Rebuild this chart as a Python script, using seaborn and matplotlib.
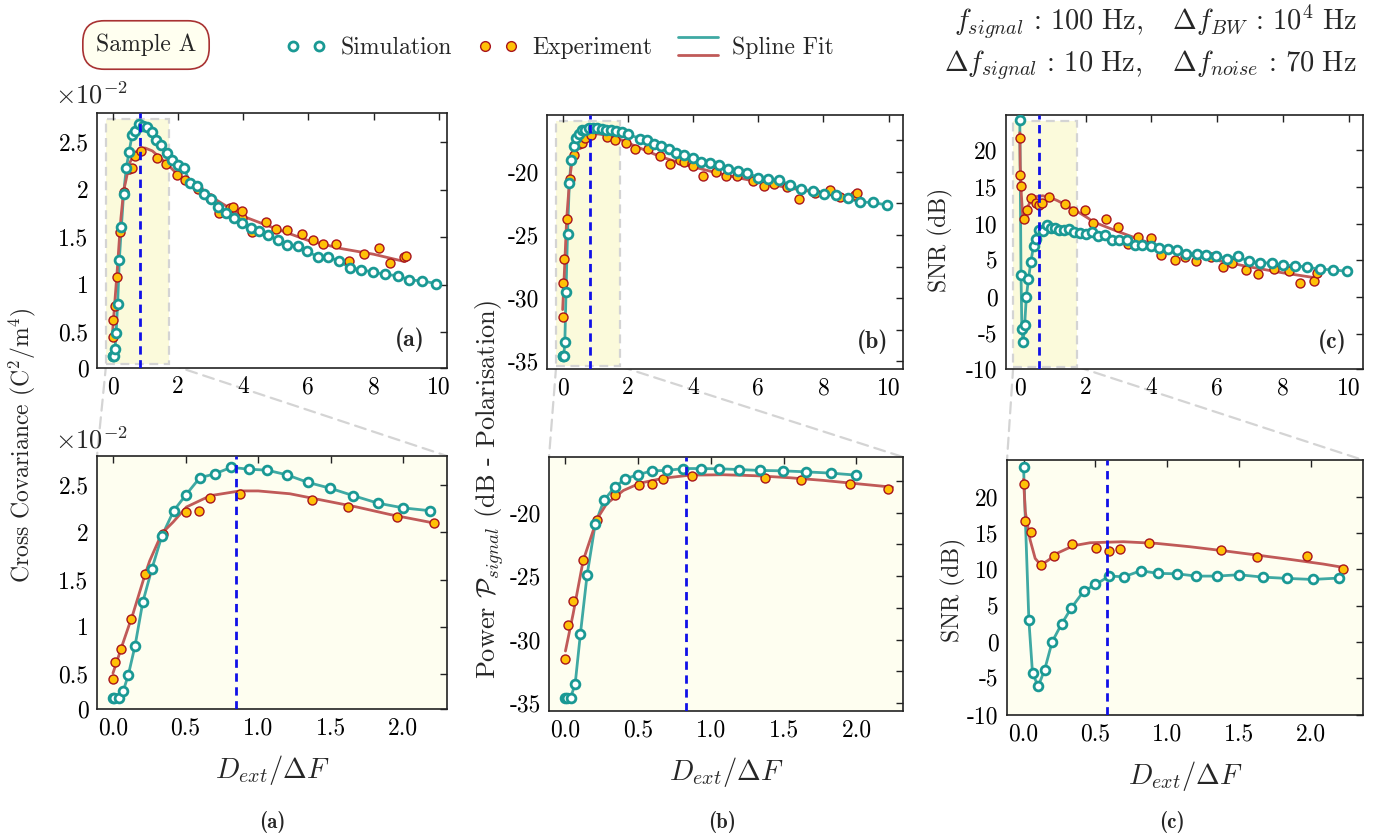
import numpy as np
import pandas as pd
import seaborn as sns
import matplotlib
matplotlib.use("Agg")
import matplotlib.pyplot as plt
from matplotlib.patches import Rectangle, ConnectionPatch
from matplotlib.lines import Line2D
from matplotlib.legend_handler import HandlerBase

# ---------------- data ----------------
# (a) Cross covariance (x1e-2)
a_sim_x = [0.0, 0.01, 0.04, 0.07, 0.106, 0.152, 0.205, 0.267, 0.336, 0.418, 0.503, 0.598, 0.70, 0.814,
           0.936, 1.062, 1.198, 1.343, 1.492, 1.655, 1.825, 2.0, 2.186, 2.375, 2.58, 2.81, 3.01, 3.24,
           3.48, 3.72, 3.98, 4.23, 4.50, 4.77, 5.06, 5.36, 5.67, 5.96, 6.28, 6.61, 6.94, 7.27, 7.62,
           7.98, 8.34, 8.75, 9.10, 9.49, 9.92]
a_sim_y = [0.246, 0.246, 0.246, 0.317, 0.493, 0.80, 1.26, 1.61, 1.96, 2.23, 2.40, 2.58, 2.62, 2.69,
           2.67, 2.66, 2.61, 2.53, 2.47, 2.39, 2.31, 2.26, 2.23, 2.07, 2.036, 1.958, 1.899, 1.817,
           1.758, 1.701, 1.652, 1.599, 1.564, 1.521, 1.465, 1.419, 1.402, 1.349, 1.296, 1.289, 1.25,
           1.176, 1.159, 1.130, 1.109, 1.092, 1.049, 1.039, 1.010]
a_exp_x = [0.0, 0.016, 0.057, 0.122, 0.221, 0.345, 0.506, 0.595, 0.671, 0.874, 1.372, 1.621, 1.959,
           2.211, 2.61, 2.99, 3.27, 3.60, 3.70, 3.96, 3.98, 4.28, 4.70, 5.01, 5.33, 5.81, 6.15, 6.45,
           6.86, 7.24, 7.71, 8.17, 8.49, 8.93, 9.0]
a_exp_y = [0.447, 0.623, 0.77, 1.085, 1.556, 1.98, 2.22, 2.23, 2.36, 2.41, 2.34, 2.27, 2.16, 2.10,
           2.01, 1.91, 1.758, 1.81, 1.818, 1.70, 1.78, 1.553, 1.659, 1.588, 1.571, 1.529, 1.465,
           1.423, 1.43, 1.254, 1.324, 1.387, 1.225, 1.288, 1.306]
a_fit_x = [0.0, 0.069, 0.138, 0.221, 0.253, 0.336, 0.414, 0.506, 0.671, 0.874, 1.0, 1.218, 1.448,
           1.678, 1.908, 2.21, 3.0, 4.0, 5.0, 6.0, 7.0, 8.0, 8.95]
a_fit_y = [0.51, 0.83, 1.14, 1.556, 1.70, 1.99, 2.11, 2.27, 2.39, 2.44, 2.44, 2.41, 2.34, 2.27, 2.19,
           2.10, 1.93, 1.72, 1.59, 1.465, 1.38, 1.32, 1.243]
a_opt = 0.85

# (b) Power P_signal (dB)
b_sim_x = [0.0, 0.01, 0.035, 0.067, 0.103, 0.149, 0.205, 0.264, 0.338, 0.411, 0.497, 0.595, 0.697,
           0.811, 0.929, 1.057, 1.195, 1.338, 1.494, 1.65, 1.823, 2.0, 2.38, 2.59, 2.81, 3.02, 3.25,
           3.49, 3.73, 3.99, 4.24, 4.51, 4.79, 5.07, 5.38, 5.67, 5.98, 6.30, 6.63, 6.96, 7.31, 7.67,
           8.01, 8.37, 8.74, 9.13, 9.52, 9.95]
b_sim_y = [-34.58, -34.58, -34.6, -33.48, -29.53, -24.89, -20.87, -19.03, -17.98, -17.32, -17.0,
           -16.69, -16.66, -16.51, -16.51, -16.53, -16.59, -16.66, -16.69, -16.77, -16.87, -17.03,
           -17.37, -17.45, -17.76, -17.94, -18.21, -18.47, -18.69, -18.87, -19.18, -19.26, -19.45,
           -19.74, -19.95, -20.08, -20.45, -20.60, -20.66, -21.0, -21.37, -21.52, -21.76, -21.87,
           -22.1, -22.39, -22.42, -22.63]
b_exp_x = [0.0, 0.016, 0.055, 0.122, 0.218, 0.343, 0.506, 0.595, 0.671, 0.871, 1.37, 1.62, 1.956,
           2.214, 2.62, 3.0, 3.28, 3.61, 3.71, 3.98, 3.99, 4.29, 4.71, 5.02, 5.35, 5.83, 6.17, 6.47,
           6.88, 7.26, 7.73, 8.19, 8.52, 8.96, 9.03]
b_exp_y = [-31.5, -28.83, -26.93, -23.76, -20.55, -18.63, -17.79, -17.71, -17.35, -17.08, -17.22,
           -17.45, -17.74, -18.16, -18.21, -18.73, -19.4, -19.08, -19.21, -19.26, -19.53, -20.34,
           -20.0, -20.34, -20.34, -20.74, -21.13, -20.97, -21.23, -22.18, -21.71, -21.4, -21.97,
           -21.84, -21.71]
b_fit_x = [0.0, 0.053, 0.122, 0.218, 0.283, 0.398, 0.513, 0.674, 0.857, 1.087, 1.317, 1.547, 1.777,
           2.007, 2.248, 3.0, 4.0, 5.0, 6.0, 7.0, 8.0, 8.98]
b_fit_y = [-30.9, -27.96, -23.76, -20.47, -19.29, -18.24, -17.66, -17.27, -17.03, -17.0, -17.08,
           -17.24, -17.45, -17.71, -17.98, -18.8, -19.6, -20.26, -20.8, -21.3, -21.7, -21.97]
b_opt = 0.83

# (c) SNR (dB)
c_sim_x = [0.0, 0.037, 0.0625, 0.102, 0.146, 0.199, 0.264, 0.333, 0.417, 0.5, 0.597, 0.699, 0.815,
           0.935, 1.065, 1.201, 1.347, 1.498, 1.662, 1.833, 2.009, 2.194, 2.38, 2.59, 2.81, 3.02,
           3.25, 3.49, 3.73, 3.99, 4.24, 4.51, 4.79, 5.07, 5.38, 5.67, 5.98, 6.30, 6.63, 6.96, 7.31,
           7.67, 8.01, 8.37, 8.74, 9.13, 9.52, 9.95]
c_sim_y = [24.1, 3.01, -4.33, -6.08, -3.87, 0.03, 2.46, 4.71, 6.96, 7.92, 9.07, 8.98, 9.81, 9.44,
           9.39, 9.07, 9.07, 9.26, 8.93, 8.75, 8.61, 8.80, 8.27, 8.45, 7.82, 7.82, 7.73, 7.05, 7.14,
           6.91, 6.73, 6.5, 6.45, 5.91, 5.91, 5.68, 5.59, 5.23, 5.55, 4.86, 4.68, 4.64, 4.32, 4.27,
           4.09, 3.77, 3.73, 3.5]
c_exp_x = [0.0, 0.009, 0.051, 0.12, 0.215, 0.34, 0.505, 0.593, 0.671, 0.873, 1.373, 1.625, 1.968,
           2.218, 2.62, 3.0, 3.28, 3.61, 3.99, 4.29, 4.71, 5.02, 5.35, 5.83, 6.17, 6.47, 6.88, 7.26,
           7.73, 8.19, 8.52, 8.96, 9.03]
c_exp_y = [21.7, 16.69, 15.09, 10.59, 11.87, 13.43, 12.88, 12.52, 12.75, 13.57, 12.65, 11.74, 11.87,
           10.08, 10.64, 9.55, 7.18, 8.18, 8.09, 5.68, 5.09, 5.45, 4.86, 5.45, 4.09, 4.64, 3.73,
           3.09, 3.86, 3.5, 1.91, 2.14, 3.32]
c_fit_x = [0.0, 0.012, 0.046, 0.081, 0.12, 0.174, 0.231, 0.347, 0.463, 0.694, 0.926, 1.157, 1.389,
           1.62, 1.852, 2.083, 2.222, 3.0, 4.0, 5.0, 6.0, 7.0, 8.0, 9.03]
c_fit_y = [22.4, 17.93, 14.03, 11.5, 10.59, 11.28, 12.19, 13.25, 13.66, 13.8, 13.57, 13.11, 12.56,
           11.97, 11.37, 10.73, 10.27, 8.9, 7.27, 5.9, 5.0, 4.1, 3.3, 2.6]
c_opt = 0.58

top_xticks = [0, 2, 4, 6, 8, 10]
bot_xticks = [0.0, 0.5, 1.0, 1.5, 2.0]

# ---------------- style ----------------
sns.set_theme(style="white")
plt.rcParams.update({
    "font.family": "serif",
    "font.serif": ["cmr10", "DejaVu Serif"],
    "mathtext.fontset": "cm",
    "axes.unicode_minus": False,
    "axes.formatter.use_mathtext": True,
    "axes.edgecolor": "#222222",
    "axes.linewidth": 1.2,
})

TEAL_M = "#1a9994"
TEAL_L = "#3fa9a3"
GOLD = "#ffc107"
EDGE_R = "#a8141c"
RED_L = "#c05a58"
BLUE = "#1010e8"
RECT_FC = "#fbfadb"
BOT_FC = "#fefef0"
GRAY = "#d4d4d4"
FS_TICK = 17
FS_LAB = 17
FS_MATH = 20.5

W, H = 1383, 834
fig = plt.figure(figsize=(W / 100, H / 100), dpi=100)
fig.patch.set_facecolor("white")


def px_rect(l, t, r, b):
    return [l / W, 1 - b / H, (r - l) / W, (b - t) / H]


def style_ax(ax):
    ax.tick_params(direction="in", top=True, right=True, length=5, width=1.0,
                   labelsize=FS_TICK, pad=6, colors="#222222", labelcolor="black")
    ax.set_xlabel("")
    ax.set_ylabel("")


def draw(ax, sx, sy, ex, ey, fx, fy, xmax=None):
    sim = pd.DataFrame({"x": sx, "y": sy})
    exp = pd.DataFrame({"x": ex, "y": ey})
    fit = pd.DataFrame({"x": fx, "y": fy})
    if xmax is not None:
        sim = sim[sim.x <= xmax]
        exp = exp[exp.x <= xmax]
        fit = fit[fit.x <= xmax]
    sns.lineplot(data=sim, x="x", y="y", ax=ax, color=TEAL_L, lw=2.0, sort=False,
                 estimator=None, legend=False, zorder=3)
    sns.lineplot(data=fit, x="x", y="y", ax=ax, color=RED_L, lw=2.0, sort=False,
                 estimator=None, legend=False, zorder=3)
    sns.scatterplot(data=exp, x="x", y="y", ax=ax, s=42, color=GOLD, edgecolor=EDGE_R,
                    linewidth=1.0, legend=False, zorder=4)
    sns.scatterplot(data=sim, x="x", y="y", ax=ax, s=40, marker="o", facecolor="white",
                    edgecolor=TEAL_M, linewidth=2.0, legend=False, zorder=5)


panels = [
    dict(sx=a_sim_x, sy=a_sim_y, ex=a_exp_x, ey=a_exp_y, fx=a_fit_x, fy=a_fit_y, opt=a_opt,
         top_pos=(97, 113, 447, 368), bot_pos=(97, 456, 447, 709),
         top_xlim=(-0.48, 10.25), bot_xlim=(-0.11, 2.3),
         top_ylim=(0.12, 2.81), bot_ylim=(0.13, 2.81),
         yt=[0.5, 1.0, 1.5, 2.0, 2.5], ytl=["0.5", "1", "1.5", "2", "2.5"], ybot_label="0",
         zoom=(-0.2, 0.16, 1.74, 2.75), tag="a", tagpos=(0.937, 0.11)),
    dict(sx=b_sim_x, sy=b_sim_y, ex=b_exp_x, ey=b_exp_y, fx=b_fit_x, fy=b_fit_y, opt=b_opt,
         top_pos=(547, 115, 903, 369), bot_pos=(549, 457, 903, 711),
         top_xlim=(-0.48, 10.44), bot_xlim=(-0.113, 2.32),
         top_ylim=(-35.6, -15.5), bot_ylim=(-35.63, -15.6),
         yt=[-35, -32.5, -30, -27.5, -25, -22.5, -20, -17.5],
         ytl=["-35", "", "-30", "", "-25", "", "-20", ""], ybot_label=None,
         zoom=(-0.2, -35.4, 1.77, -15.97), tag="b", tagpos=(0.958, 0.106)),
    dict(sx=c_sim_x, sy=c_sim_y, ex=c_exp_x, ey=c_exp_y, fx=c_fit_x, fy=c_fit_y, opt=c_opt,
         top_pos=(1006, 115, 1363, 369), bot_pos=(1007, 460, 1363, 715),
         top_xlim=(-0.42, 10.44), bot_xlim=(-0.115, 2.36),
         top_ylim=(-9.8, 24.8), bot_ylim=(-10.05, 25.05),
         yt=[-5, 0, 5, 10, 15, 20], ytl=["-5", "0", "5", "10", "15", "20"], ybot_label="-10",
         zoom=(-0.2, -9.5, 1.75, 24.0), tag="c", tagpos=(0.955, 0.107)),
]

for p in panels:
    axt = fig.add_axes(px_rect(*p["top_pos"]))
    axb = fig.add_axes(px_rect(*p["bot_pos"]))
    draw(axt, p["sx"], p["sy"], p["ex"], p["ey"], p["fx"], p["fy"])
    draw(axb, p["sx"], p["sy"], p["ex"], p["ey"], p["fx"], p["fy"], xmax=2.25)
    axb.set_facecolor(BOT_FC)

    for ax, xl, yl in ((axt, p["top_xlim"], p["top_ylim"]), (axb, p["bot_xlim"], p["bot_ylim"])):
        ax.set_xlim(*xl)
        ax.set_ylim(*yl)
        ax.axvline(p["opt"], color=BLUE, lw=2.0, ls=(0, (3, 2)), zorder=6)
        style_ax(ax)

    axt.set_xticks(top_xticks)
    axt.set_xticklabels([str(t) for t in top_xticks])
    axb.set_xticks(bot_xticks)
    axb.set_xticklabels([f"{t:.1f}" for t in bot_xticks])

    if p["tag"] == "c":
        axt.set_yticks([p["top_ylim"][0]] + p["yt"])
        axt.set_yticklabels([p["ybot_label"]] + p["ytl"])
        axb.set_yticks([-10] + p["yt"])
        axb.set_yticklabels(["-10"] + p["ytl"])
    elif p["ybot_label"] is not None:
        axt.set_yticks([p["top_ylim"][0]] + p["yt"])
        axt.set_yticklabels([p["ybot_label"]] + p["ytl"])
        axb.set_yticks([p["bot_ylim"][0]] + p["yt"])
        axb.set_yticklabels([p["ybot_label"]] + p["ytl"])
    else:
        for ax in (axt, axb):
            ax.set_yticks(p["yt"])
            ax.set_yticklabels(p["ytl"])

    # zoom window on top panel
    x0, y0, x1, y1 = p["zoom"]
    axt.add_patch(Rectangle((x0, y0), x1 - x0, y1 - y0, facecolor=RECT_FC, edgecolor=GRAY,
                            ls=(0, (4, 2.5)), lw=1.6, zorder=0.5))
    for xa, xb in ((x0, 0), (x1, 1)):
        con = ConnectionPatch(xyA=(xa, y0), coordsA=axt.transData, xyB=(xb, 1),
                              coordsB=axb.transAxes, color=GRAY, ls=(0, (5, 3)), lw=1.6, zorder=0)
        fig.add_artist(con)

    axt.text(p["tagpos"][0], p["tagpos"][1], "(" + p["tag"] + ")", transform=axt.transAxes,
             ha="right", va="center", fontsize=17, fontfamily="cmb10")
    axb.set_xlabel(r"$D_{ext}/\Delta F$", fontsize=FS_MATH, labelpad=10)

# y labels and annotations
fig.text(22 / W, 1 - 445 / H, r"Cross Covariance (C$^2$/m$^4$)", rotation=90, ha="center",
         va="center", fontsize=FS_LAB)
fig.text(490 / W, 1 - 490 / H, r"Power $\mathcal{P}_{signal}$ (dB - Polarisation)", rotation=90,
         ha="center", va="center", fontsize=19)
fig.text(940 / W, 1 - 240 / H, "SNR (dB)", rotation=90, ha="center", va="center", fontsize=FS_LAB)
fig.text(953 / W, 1 - 590 / H, "SNR (dB)", rotation=90, ha="center", va="center", fontsize=FS_LAB)
fig.text(55 / W, 1 - 95 / H, r"$\times10^{-2}$", ha="left", va="center", fontsize=19)
fig.text(55 / W, 1 - 440 / H, r"$\times10^{-2}$", ha="left", va="center", fontsize=19)
for cx, t in ((272, "a"), (722, "b"), (1172, "c")):
    fig.text(cx / W, 1 - 822 / H, "(" + t + ")", ha="center", va="center", fontsize=15,
             fontfamily="cmb10")

fig.text(146 / W, 1 - 45 / H, "Sample A", ha="center", va="center", fontsize=17,
         bbox=dict(boxstyle="round,pad=0.55,rounding_size=0.9", fc="#fffff0", ec="#a83232", lw=1.2))
fig.text(1357 / W, 1 - 22 / H,
         r"$f_{signal}\,:\,100\ \mathrm{Hz},\quad \Delta f_{BW}\,:\,10^4\ \mathrm{Hz}$",
         ha="right", va="center", fontsize=FS_MATH)
fig.text(1357 / W, 1 - 65 / H,
         r"$\Delta f_{signal}\,:\,10\ \mathrm{Hz},\quad \Delta f_{noise}\,:\,70\ \mathrm{Hz}$",
         ha="right", va="center", fontsize=FS_MATH)


# legend
class SplinePair:
    pass


class SplineHandler(HandlerBase):
    def create_artists(self, legend, orig_handle, xdescent, ydescent, width, height, fontsize, trans):
        xs = [-xdescent, width - xdescent]
        l1 = Line2D(xs, [height * 1.05 - ydescent] * 2, color=TEAL_L, lw=2.0, transform=trans)
        l2 = Line2D(xs, [-height * 0.05 - ydescent] * 2, color=RED_L, lw=2.0, transform=trans)
        return [l1, l2]


h_sim = Line2D([], [], ls="none", marker="o", mfc="white", mec=TEAL_M, mew=2.0, ms=6.5)
h_exp = Line2D([], [], ls="none", marker="o", mfc=GOLD, mec=EDGE_R, mew=1.0, ms=7)
fig.legend([h_sim, h_exp, SplinePair()], ["Simulation", "Experiment", "Spline Fit"],
           loc="center", bbox_to_anchor=(560 / W, 1 - 48 / H), ncol=3, frameon=False,
           fontsize=17, numpoints=2, handlelength=1.7, handletextpad=0.6, columnspacing=1.1,
           handler_map={SplinePair: SplineHandler()})

fig.savefig("out.png", dpi=100, facecolor="white")
